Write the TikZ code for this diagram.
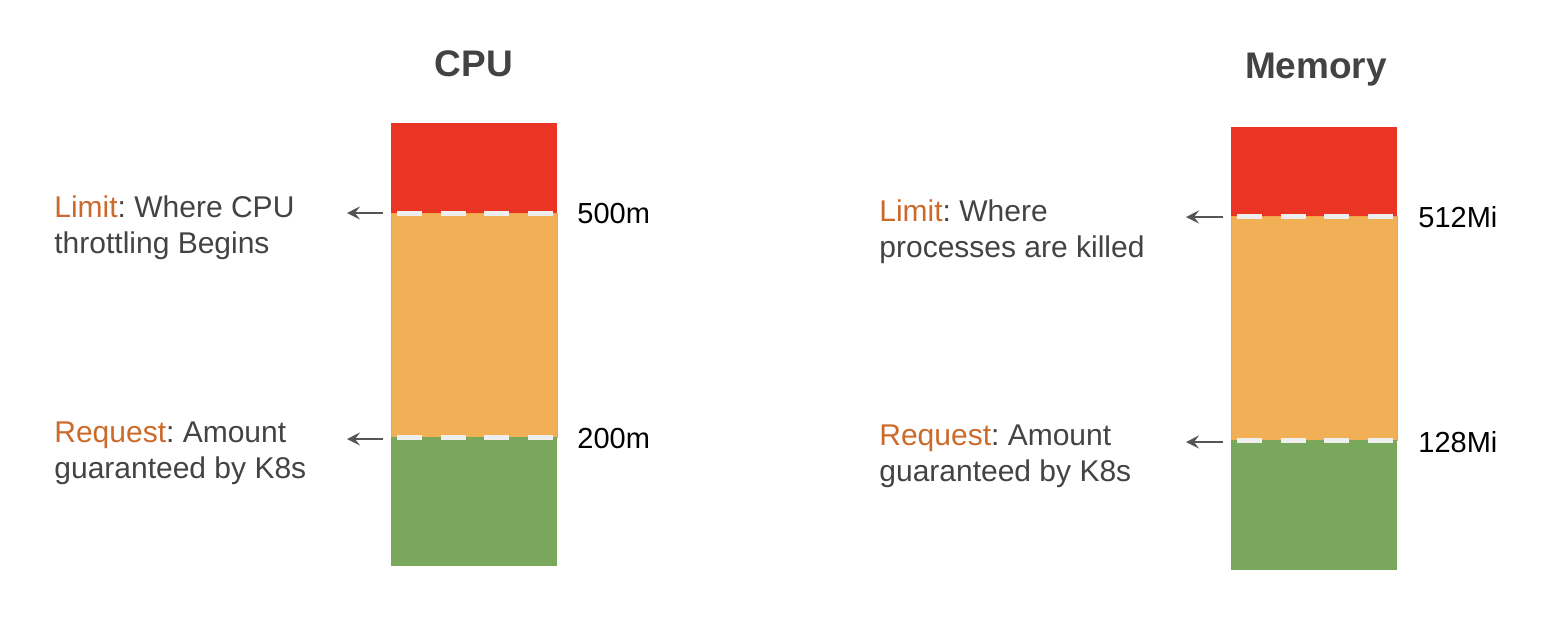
\documentclass[tikz,border=0pt]{standalone}
\usepackage{fontspec}
\setmainfont{Liberation Sans}
\usetikzlibrary{arrows.meta}
\frenchspacing
\definecolor{barred}{HTML}{EA3424}
\definecolor{barorange}{HTML}{F1AF56}
\definecolor{barorangeedge}{HTML}{F2A545}
\definecolor{bargreen}{HTML}{79A75B}
\definecolor{dashcol}{HTML}{EEEEEE}
\definecolor{labelorange}{HTML}{CC6A2C}
\definecolor{textgray}{HTML}{434343}
\definecolor{arrowgray}{HTML}{555555}
\begin{document}
\begin{tikzpicture}[x=0.5pt,y=-0.5pt,
  seg/.style={inner sep=0pt, outer sep=0pt, minimum width=83pt, anchor=north west},
  redseg/.style={seg, fill=barred},
  orangeseg/.style={seg, fill=barorange, draw=barorangeedge, line width=0.5pt},
  greenseg/.style={seg, fill=bargreen},
  dashline/.style={draw=dashcol, line width=2.5pt, dash pattern=on 12.5pt off 9.33pt},
  arr/.style={draw=arrowgray, line width=0.9pt, -{Stealth[length=6.5pt,width=6.5pt,inset=2.5pt]}},
  title/.style={font=\fontsize{18.5}{22}\selectfont\bfseries, text=textgray, anchor=base, inner sep=0pt},
  lbl/.style={font=\fontsize{15}{18}\selectfont\frenchspacing, text=textgray, align=left, anchor=base west, inner sep=0pt},
  num/.style={font=\fontsize{14.5}{17}\selectfont, text=black, anchor=base west, inner sep=0pt},
  hl/.style={text=labelorange}
]
\useasboundingbox (0,0) rectangle (1560,618);

% CPU
\node[title] (cputitle) at (474,76) {CPU};
\node[redseg, minimum height=45pt] (cpured) at (391,123) {};
\node[orangeseg, minimum height=112pt] (cpuorange) at (cpured.south west) {};
\node[greenseg, minimum height=64.5pt] (cpugreen) at (cpuorange.south west) {};
\coordinate (cpuLimA) at (397,213);
\coordinate (cpuLimB) at (553,213);
\coordinate (cpuReqA) at (397,437);
\coordinate (cpuReqB) at (553,437);
\draw[dashline] (cpuLimA) -- (cpuLimB);
\draw[dashline] (cpuReqA) -- (cpuReqB);
\coordinate (cpuLimTail) at (383,213);
\coordinate (cpuLimTip) at (347,213);
\coordinate (cpuReqTail) at (383,439);
\coordinate (cpuReqTip) at (347,439);
\draw[arr] (cpuLimTail) -- (cpuLimTip);
\draw[arr] (cpuReqTail) -- (cpuReqTip);
\node[lbl] (cpulimlbl) at (54,253) {\textcolor{labelorange}{Limit}: Where CPU\\throttling Begins};
\node[lbl] (cpureqlbl) at (54,478) {\textcolor{labelorange}{Request}: Amount\\guaranteed by K8s};
\node[num] (cpulimnum) at (577,223) {500m};
\node[num] (cpureqnum) at (577,448) {200m};

% Memory
\node[title] (memtitle) at (1316,78) {Memory};
\node[redseg, minimum height=44.5pt] (memred) at (1231,127) {};
\node[orangeseg, minimum height=112pt] (memorange) at (memred.south west) {};
\node[greenseg, minimum height=65pt] (memgreen) at (memorange.south west) {};
\coordinate (memLimA) at (1237,216);
\coordinate (memLimB) at (1393,216);
\coordinate (memReqA) at (1237,440);
\coordinate (memReqB) at (1393,440);
\draw[dashline] (memLimA) -- (memLimB);
\draw[dashline] (memReqA) -- (memReqB);
\coordinate (memLimTail) at (1223,217);
\coordinate (memLimTip) at (1186,217);
\coordinate (memReqTail) at (1223,442);
\coordinate (memReqTip) at (1186,442);
\draw[arr] (memLimTail) -- (memLimTip);
\draw[arr] (memReqTail) -- (memReqTip);
\node[lbl] (memlimlbl) at (879,257) {\textcolor{labelorange}{Limit}: Where\\processes are killed};
\node[lbl] (memreqlbl) at (879,481) {\textcolor{labelorange}{Request}: Amount\\guaranteed by K8s};
\node[num] (memlimnum) at (1418,227) {512Mi};
\node[num] (memreqnum) at (1418,452) {128Mi};
\end{tikzpicture}
\end{document}
